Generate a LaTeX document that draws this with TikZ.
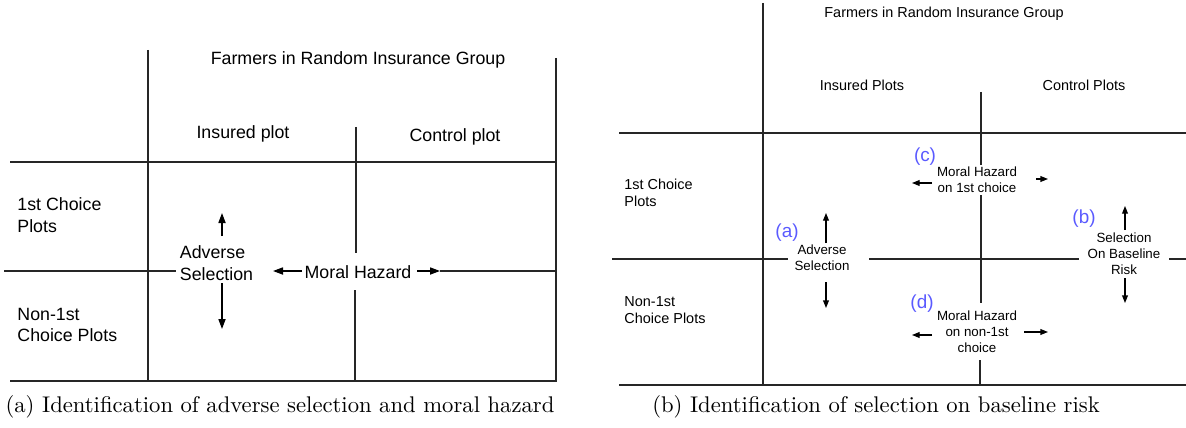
\documentclass[tikz,border=0pt]{standalone}
\usepackage{fontspec}
\newfontfamily\hv{Liberation Sans}
\usetikzlibrary{arrows.meta}
\definecolor{lblue}{RGB}{90,90,255}
\tikzset{
  grid/.style={line width=0.6pt, black!85},
  hdL/.style={font=\hv\fontsize{8}{9.8}\selectfont, inner sep=0pt, align=left},
  hdR/.style={font=\hv\fontsize{6.5}{7.8}\selectfont, inner sep=0pt, align=left},
  smR/.style={font=\hv\fontsize{6}{7.2}\selectfont, inner sep=0pt, align=center},
  tag/.style={font=\hv\fontsize{8.5}{9}\selectfont, text=lblue, inner sep=0pt},
  arrL/.style={line width=0.6pt, -{Triangle[length=4.5pt,width=3.2pt]}},
  arrR/.style={line width=0.5pt, -{Triangle[length=3.4pt,width=2.6pt]}},
  captext/.style={font=\fontsize{10.2}{12}\selectfont, inner sep=0pt}
}
\begin{document}
\begin{tikzpicture}[x=0.45pt,y=-0.45pt]
\useasboundingbox (0,0) rectangle (1186,427);
% ---------------- left panel ----------------
\coordinate (L1t) at (148,50);  \coordinate (L1b) at (148,381);
\coordinate (L2t) at (556,58);  \coordinate (L2b) at (556,381);
\coordinate (LMt) at (356,127); \coordinate (LMa) at (356,253);
\coordinate (LMc) at (355,290); \coordinate (LMb) at (355,381);
\coordinate (LTa) at (10,162);  \coordinate (LTb) at (556,162);
\coordinate (LHa) at (4,271);   \coordinate (LHb) at (176,271);
\coordinate (LHc) at (440,271); \coordinate (LHd) at (556,271);
\coordinate (LBa) at (10,381);  \coordinate (LBb) at (557,381);
\draw[grid] (L1t) -- (L1b);
\draw[grid] (L2t) -- (L2b);
\draw[grid] (LMt) -- (LMa);
\draw[grid] (LMc) -- (LMb);
\draw[grid] (LTa) -- (LTb);
\draw[grid] (LHa) -- (LHb);
\draw[grid] (LHc) -- (LHd);
\draw[grid] (LBa) -- (LBb);

\node[hdL] (farmL) at (358,60) {Farmers in Random Insurance Group};
\node[hdL] (insL) at (243,134) {Insured plot};
\node[hdL] (conL) at (455,137) {Control plot};
\node[hdL, anchor=west] (c1L) at (17,215) {1st Choice\\Plots};
\node[hdL, anchor=west] (n1L) at (17,325) {Non-1st\\Choice Plots};
\node[hdL] (asL) at (216.5,263) {Adverse\\Selection};
\node[hdL] (mhL) at (358,272) {Moral Hazard};

\coordinate (aLu0) at (222,236); \coordinate (aLu1) at (222,213);
\coordinate (aLd0) at (222,283); \coordinate (aLd1) at (222,329);
\coordinate (mLl0) at (302,271); \coordinate (mLl1) at (273,271);
\coordinate (mLr0) at (417,271);
\draw[arrL] (aLu0) -- (aLu1);
\draw[arrL] (aLd0) -- (aLd1);
\draw[arrL] (mLl0) -- (mLl1);
\draw[arrL] (mLr0) -- (LHc);

% ---------------- right panel ----------------
\coordinate (R1t) at (763,3);    \coordinate (R1b) at (763,385);
\coordinate (RTa) at (619,133);  \coordinate (RTb) at (1186,133);
\coordinate (RHa) at (612,259);  \coordinate (RHb) at (788,259);
\coordinate (RHc) at (869,259);  \coordinate (RHd) at (1079,259);
\coordinate (RHe) at (1169,259); \coordinate (RHf) at (1186,259);
\coordinate (RBa) at (619,385);  \coordinate (RBb) at (1186,385);
\coordinate (RMa) at (981,92);   \coordinate (RMb) at (981,165);
\coordinate (RMc) at (981,195);  \coordinate (RMd) at (981,303);
\coordinate (RMe) at (980,360);  \coordinate (RMf) at (980,385);
\draw[grid] (R1t) -- (R1b);
\draw[grid] (RTa) -- (RTb);
\draw[grid] (RHa) -- (RHb);
\draw[grid] (RHc) -- (RHd);
\draw[grid] (RHe) -- (RHf);
\draw[grid] (RBa) -- (RBb);
\draw[grid] (RMa) -- (RMb);
\draw[grid] (RMc) -- (RMd);
\draw[grid] (RMe) -- (RMf);

\node[hdR] (farmR) at (944,14) {Farmers in Random Insurance Group};
\node[hdR] (insR) at (862,85) {Insured Plots};
\node[hdR] (conR) at (1084,85) {Control Plots};
\node[hdR, anchor=west] (c1R) at (624,193) {1st Choice\\Plots};
\node[hdR, anchor=west] (n1R) at (624,310) {Non-1st\\Choice Plots};

\node[tag] (ta) at (787,233) {(a)};
\node[smR] (asR) at (822,258) {Adverse\\Selection};
\node[tag] (tc) at (925,157) {(c)};
\node[smR] (mh1) at (977,180) {Moral Hazard\\on 1st choice};
\node[tag] (tb) at (1084,219) {(b)};
\node[smR] (sbR) at (1124,254) {Selection\\On Baseline\\Risk};
\node[tag] (td) at (922,304) {(d)};
\node[smR] (mh2) at (977,332) {Moral Hazard\\on non-1st\\choice};

\coordinate (aRu0) at (826,243); \coordinate (aRu1) at (826,213);
\coordinate (aRd0) at (826,282); \coordinate (aRd1) at (826,308);
\coordinate (cl0) at (932,183);  \coordinate (cl1) at (912,183);
\coordinate (cr0) at (1036,179); \coordinate (cr1) at (1048,179);
\coordinate (bu0) at (1125,230); \coordinate (bu1) at (1125,206);
\coordinate (bd0) at (1125,278); \coordinate (bd1) at (1125,303);
\coordinate (dl0) at (932,335);  \coordinate (dl1) at (912,335);
\coordinate (dr0) at (1024,332); \coordinate (dr1) at (1048,332);
\draw[arrR] (aRu0) -- (aRu1);
\draw[arrR] (aRd0) -- (aRd1);
\draw[arrR] (cl0) -- (cl1);
\draw[arrR] (cr0) -- (cr1);
\draw[arrR] (bu0) -- (bu1);
\draw[arrR] (bd0) -- (bd1);
\draw[arrR] (dl0) -- (dl1);
\draw[arrR] (dr0) -- (dr1);

% ---------------- captions ----------------
\node[captext] (capA) at (280,407) {(a) Identification of adverse selection and moral hazard};
\node[captext] (capB) at (876,407) {(b) Identification of selection on baseline risk};
\end{tikzpicture}
\end{document}
